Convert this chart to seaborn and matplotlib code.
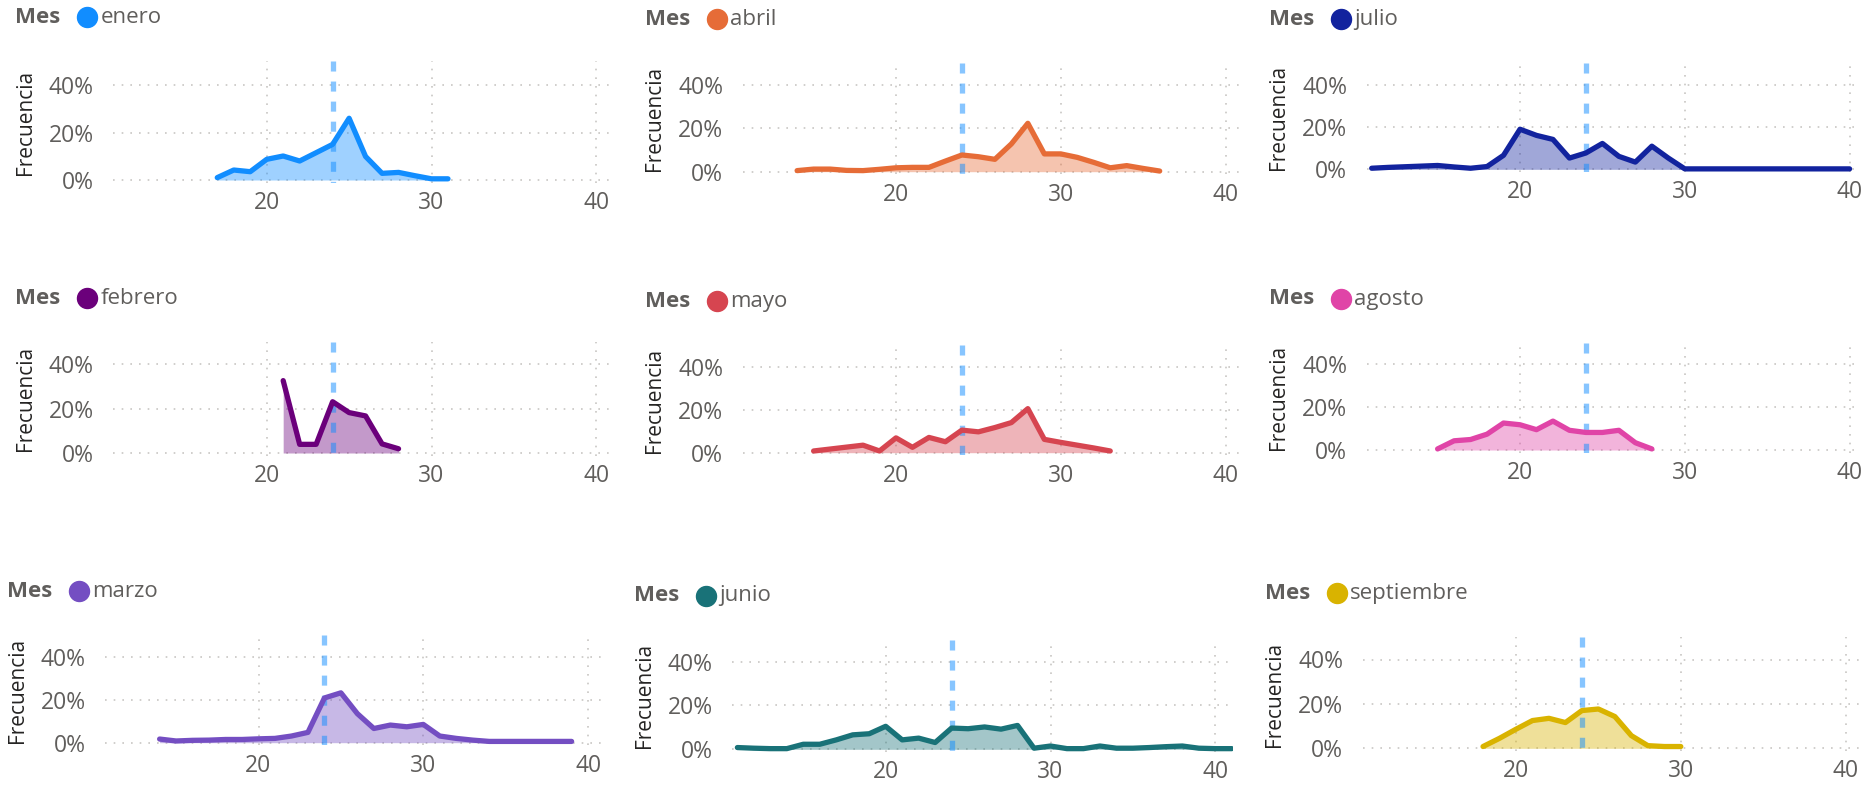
import matplotlib
matplotlib.use("Agg")
import matplotlib.pyplot as plt
from matplotlib.lines import Line2D
import numpy as np
import pandas as pd
import seaborn as sns

# ---------------- data ----------------
months = ["enero", "abril", "julio", "febrero", "mayo", "agosto", "marzo", "junio", "septiembre"]
colors = {
    "enero": "#118DFF", "febrero": "#6B007B", "marzo": "#744EC2",
    "abril": "#E66C37", "mayo": "#D64550", "junio": "#197278",
    "julio": "#12239E", "agosto": "#E044A7", "septiembre": "#D9B300",
}

enero_t = [17, 18, 19, 20, 21, 22, 23, 24, 25, 26, 27, 28, 29, 30, 31]
enero_f = [1.0, 4.2, 3.5, 8.7, 10.1, 8.0, 11.5, 15.0, 26.0, 9.9, 2.8, 3.2, 1.8, 0.5, 0.5]

febrero_t = [21, 22, 23, 24, 25, 26, 27, 28]
febrero_f = [32.6, 3.9, 3.9, 23.1, 18.2, 16.7, 4.1, 1.9]

marzo_t = [14, 15, 16, 17, 18, 19, 20, 21, 22, 23, 24, 25, 26, 27, 28, 29, 30, 31, 32, 33,
           34, 35, 36, 37, 38, 39]
marzo_f = [1.7, 0.8, 1.1, 1.2, 1.5, 1.5, 1.8, 2.0, 3.1, 4.8, 20.8, 23.2, 13.5, 6.6, 8.2, 7.4,
           8.5, 3.1, 2.0, 1.2, 0.6, 0.6, 0.6, 0.6, 0.6, 0.6]

abril_t = [14, 15, 16, 17, 18, 19, 20, 21, 22, 23, 24, 25, 26, 27, 28, 29, 30, 31, 32, 33,
           34, 35, 36]
abril_f = [0.5, 1.2, 1.2, 0.6, 0.5, 1.1, 1.8, 2.0, 2.0, 4.9, 7.7, 6.9, 5.7, 12.8, 22.3, 8.2,
           8.2, 6.6, 4.3, 1.8, 2.8, 1.5, 0.3]

mayo_t = [15, 16, 17, 18, 19, 20, 21, 22, 23, 24, 25, 26, 27, 28, 29, 30, 31, 32, 33]
mayo_f = [0.8, 1.7, 2.6, 3.5, 0.8, 6.9, 2.5, 7.1, 5.1, 10.5, 9.7, 11.7, 14.0, 20.5, 6.2, 4.8,
          3.5, 2.2, 0.8]

junio_t = [11, 12, 13, 14, 15, 16, 17, 18, 19, 20, 21, 22, 23, 24, 25, 26, 27, 28, 29, 30,
           31, 32, 33, 34, 35, 36, 37, 38, 39, 40, 41]
junio_f = [0.8, 0.5, 0.3, 0.3, 2.3, 2.3, 4.3, 6.6, 7.1, 10.5, 4.3, 5.1, 3.1, 9.7, 9.4, 10.2,
           9.2, 10.9, 0.5, 1.5, 0.3, 0.3, 1.5, 0.5, 0.5, 0.8, 1.2, 1.5, 0.5, 0.3, 0.3]

julio_t = [11, 12, 13, 14, 15, 16, 17, 18, 19, 20, 21, 22, 23, 24, 25, 26, 27, 28, 29, 30,
           31, 32, 33, 34, 35, 36, 37, 38, 39, 40]
julio_f = [0.5, 0.9, 1.2, 1.5, 1.8, 1.1, 0.5, 1.3, 6.6, 18.9, 16.0, 14.1, 5.3, 7.7, 12.2, 6.1,
           3.4, 10.9, 5.3, 0.2, 0.2, 0.2, 0.2, 0.2, 0.2, 0.2, 0.2, 0.2, 0.2, 0.2]

agosto_t = [15, 16, 17, 18, 19, 20, 21, 22, 23, 24, 25, 26, 27, 28]
agosto_f = [0.5, 4.3, 4.9, 7.4, 12.6, 11.8, 9.5, 13.5, 9.2, 8.2, 8.2, 9.2, 3.4, 0.5]

septiembre_t = [18, 19, 20, 21, 22, 23, 24, 25, 26, 27, 28, 29, 30]
septiembre_f = [0.8, 4.5, 8.6, 12.5, 13.5, 11.6, 17.0, 17.7, 14.3, 5.7, 1.2, 0.8, 0.8]

ref_temp = 24
x_ticks = [20, 30, 40]
y_ticks = [0, 20, 40]

series = {
    "enero": (enero_t, enero_f), "febrero": (febrero_t, febrero_f),
    "marzo": (marzo_t, marzo_f), "abril": (abril_t, abril_f),
    "mayo": (mayo_t, mayo_f), "junio": (junio_t, junio_f),
    "julio": (julio_t, julio_f), "agosto": (agosto_t, agosto_f),
    "septiembre": (septiembre_t, septiembre_f),
}
df = pd.concat([pd.DataFrame({"Mes": m, "Temp": t, "Frecuencia": f})
                for m, (t, f) in series.items()], ignore_index=True)

# ---------------- layout (pixels) ----------------
W, H = 1861, 786
XLIM = (10.7, 41.1)
YLIM = (-1.2, 50)
PX_PER_UNIT = 16.48
# (pixel x of value 20, pixel y of 0%, pixels per 1%)
panel_geo = {
    "enero": (266.7, 180.0, 2.375), "abril": (896, 171.7, 2.17), "julio": (1520, 169.3, 2.12),
    "febrero": (266.7, 453.0, 2.22), "mayo": (896, 452.7, 2.15), "agosto": (1520, 450.0, 2.14),
    "marzo": (258.5, 742.7, 2.15), "junio": (885.7, 749.3, 2.19), "septiembre": (1516, 748.3, 2.22),
}

sns.set_theme(style="white")
plt.rcParams["font.family"] = ["Open Sans", "DejaVu Sans"]

fig = plt.figure(figsize=(W / 100, H / 100), dpi=100)
fig.patch.set_facecolor("white")

TICK_COLOR = "#605E5C"
GRID_COLOR = "#C8C6C4"


def fx(px):
    return px / W


def fy(py):
    return 1 - py / H


for m in months:
    x20, y0, pp = panel_geo[m]
    left = x20 - (20 - XLIM[0]) * PX_PER_UNIT
    right = x20 + (XLIM[1] - 20) * PX_PER_UNIT
    top = y0 - YLIM[1] * pp
    bottom = y0 - YLIM[0] * pp
    ax = fig.add_axes([fx(left), fy(bottom), (right - left) / W, (bottom - top) / H])
    ax.set_facecolor("none")
    sub = df[df["Mes"] == m]
    c = colors[m]
    ax.fill_between(sub["Temp"], sub["Frecuencia"], 0, color=c, alpha=0.4, linewidth=0, zorder=2)
    ax.axvline(ref_temp, ymin=1, ymax=0, color="#118DFF", alpha=0.5, linewidth=3.8,
               dashes=(1.9, 1.9), zorder=3)
    sns.lineplot(data=sub, x="Temp", y="Frecuencia", ax=ax, color=c, linewidth=3.8,
                 solid_capstyle="round", solid_joinstyle="round", zorder=4)
    ax.set_xlim(*XLIM)
    ax.set_ylim(*YLIM)
    ax.set_xticks(x_ticks)
    ax.set_yticks(y_ticks)
    ax.set_xticklabels([str(v) for v in x_ticks])
    ax.set_yticklabels([f"{v}%" for v in y_ticks])
    ax.tick_params(axis="both", length=0, labelsize=16.5, labelcolor=TICK_COLOR)
    ax.tick_params(axis="y", pad=14)
    ax.tick_params(axis="x", pad=6)
    ax.set_xlabel("")
    ax.set_ylabel("")
    for s in ax.spines.values():
        s.set_visible(False)
    ax.grid(True, color=GRID_COLOR, linestyle=(0, (1, 4.2)), linewidth=1.2)
    ax.set_axisbelow(True)

    # y-axis title
    fig.text(fx(left - 88), fy((top + bottom) / 2), "Frecuencia", rotation=90,
             ha="center", va="center", fontsize=15, color="#252423")
    # legend header
    hy = top - 44
    fig.text(fx(left - 98), fy(hy), "Mes", ha="left", va="center", fontsize=16,
             fontweight="bold", color="#605E5C")
    fig.add_artist(Line2D([fx(left - 26)], [fy(hy)], marker="o", markersize=14.4,
                          color=c, linestyle="none", transform=fig.transFigure))
    fig.text(fx(left - 13), fy(hy), m, ha="left", va="center", fontsize=16,
             color="#605E5C")

fig.savefig("out.png", dpi=100, facecolor="white")
